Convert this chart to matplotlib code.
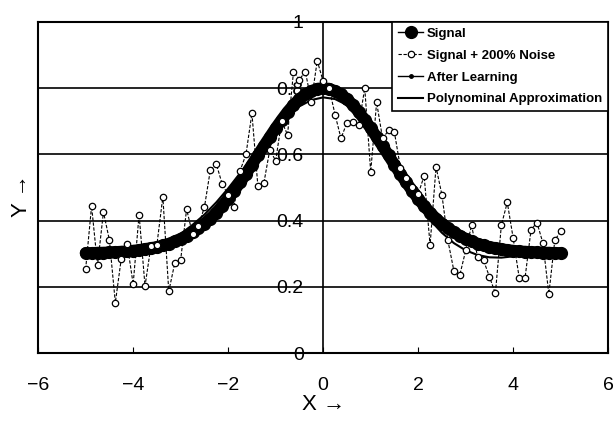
import numpy as np
import matplotlib
matplotlib.use("Agg")
import matplotlib.pyplot as plt
from matplotlib import font_manager

# pick a narrow sans if it is there
names = {f.name for f in font_manager.fontManager.ttflist}
narrow = "Liberation Sans Narrow" if "Liberation Sans Narrow" in names else "Liberation Sans"
plt.rcParams["font.family"] = [narrow, "DejaVu Sans"]

# signal, 81 points from -5 to 5
x_fine = np.linspace(-5, 5, 81)
signal_left = [0.302, 0.302, 0.303, 0.303, 0.304, 0.305, 0.306, 0.307, 0.309, 0.311,
               0.314, 0.317, 0.320, 0.325, 0.330, 0.337, 0.345, 0.354, 0.365, 0.377,
               0.391, 0.406, 0.424, 0.444, 0.466, 0.490, 0.515, 0.541, 0.569, 0.597,
               0.625, 0.652, 0.679, 0.704, 0.728, 0.749, 0.767, 0.781, 0.791, 0.798]
signal = signal_left + [0.800] + signal_left[::-1]

noise = [0.253, 0.444, 0.265, 0.426, 0.341, 0.152, 0.285, 0.329, 0.208, 0.418,
         0.202, 0.324, 0.327, 0.472, 0.186, 0.271, 0.281, 0.434, 0.360, 0.385,
         0.440, 0.553, 0.571, 0.510, 0.477, 0.442, 0.550, 0.600, 0.724, 0.505,
         0.512, 0.613, 0.581, 0.700, 0.659, 0.850, 0.826, 0.850, 0.759, 0.883,
         0.820, 0.800, 0.720, 0.648, 0.696, 0.699, 0.689, 0.800, 0.547, 0.757,
         0.648, 0.672, 0.666, 0.560, 0.530, 0.500, 0.480, 0.535, 0.326, 0.562,
         0.477, 0.340, 0.249, 0.235, 0.310, 0.386, 0.289, 0.280, 0.230, 0.180,
         0.386, 0.455, 0.346, 0.228, 0.228, 0.372, 0.394, 0.332, 0.178, 0.340,
         0.369]

# after learning and polynomial, 41 points from -5 to 5
x_coarse = np.linspace(-5, 5, 41)
after = [0.305, 0.303, 0.306, 0.310, 0.312, 0.318, 0.322, 0.334, 0.350, 0.372,
         0.398, 0.432, 0.474, 0.522, 0.574, 0.628, 0.680, 0.726, 0.762, 0.786,
         0.795, 0.788, 0.766, 0.730, 0.683, 0.630, 0.574, 0.519, 0.468, 0.425,
         0.390, 0.363, 0.344, 0.331, 0.321, 0.315, 0.311, 0.308, 0.306, 0.305,
         0.304]
poly = [0.305, 0.300, 0.298, 0.299, 0.303, 0.310, 0.322, 0.338, 0.360, 0.387,
        0.418, 0.455, 0.497, 0.543, 0.590, 0.636, 0.679, 0.716, 0.745, 0.764,
        0.772, 0.767, 0.749, 0.716, 0.671, 0.617, 0.559, 0.502, 0.449, 0.402,
        0.363, 0.332, 0.310, 0.296, 0.289, 0.288, 0.292, 0.300, 0.308, 0.312,
        0.310]

y_ticks = [0, 0.2, 0.4, 0.6, 0.8, 1]
y_labels = ["0", "0.2", "0.4", "0.6", "0.8", "1"]
x_ticks = [-6, -4, -2, 0, 2, 4, 6]
x_labels = ["\u22126", "\u22124", "\u22122", "0", "2", "4", "6"]

fig = plt.figure(figsize=(6.15, 4.21), dpi=100)
ax = fig.add_axes([0.062, 0.1615, 0.927, 0.7865])

for g in [0.2, 0.4, 0.6, 0.8]:
    ax.axhline(g, color="black", lw=1.2, zorder=1)

# thick band under the signal dots so it reads as one solid curve
ax.plot(x_fine, signal, "-", color="black", lw=8.5, solid_capstyle="round", zorder=2)
ax.plot(x_fine, signal, "-o", color="black", ms=8.5, lw=1, zorder=3, label="Signal")
ax.plot(x_fine, noise, "--o", color="black", ms=4.6, lw=0.8, mfc="white", mec="black",
        mew=0.9, dashes=(3, 1.5), zorder=4, label="Signal + 200% Noise")
ax.plot(x_coarse, after, "-o", color="black", ms=2.5, lw=1, zorder=3, label="After Learning")
ax.plot(x_coarse, poly, "-", color="black", lw=1.5, zorder=3, label="Polynominal Approximation")

ax.set_xlim(-6, 6)
ax.set_ylim(0, 1)

# y axis crosses at x = 0, outer frame kept
ax.spines["left"].set_position(("data", 0))
ax.spines["left"].set_linewidth(1.2)
ax.axvline(-6, color="black", lw=1.5, clip_on=False, zorder=5)
for s in ["top", "right", "bottom"]:
    ax.spines[s].set_linewidth(1.5)

ax.set_yticks(y_ticks)
ax.set_yticklabels(y_labels)
ax.set_xticks(x_ticks)
ax.set_xticklabels(x_labels)
ax.tick_params(axis="y", length=0, pad=14, labelsize=14)
ax.tick_params(axis="x", direction="in", length=4, pad=17, labelsize=14)

ax.set_xlabel("X \u2192", fontsize=16, labelpad=0)
fig.text(0.035, 0.535, "Y \u2192", rotation=90, fontsize=16, ha="center", va="center")

leg = ax.legend(loc="upper right", bbox_to_anchor=(1, 1), borderaxespad=0,
                prop={"weight": "bold", "size": 9.5}, handlelength=1.9,
                labelspacing=0.72, handletextpad=0.3, borderpad=0.45,
                fancybox=False, framealpha=1)
leg.get_frame().set_edgecolor("black")
leg.get_frame().set_linewidth(1.2)
leg.set_zorder(10)

fig.savefig("out.png", dpi=100)
